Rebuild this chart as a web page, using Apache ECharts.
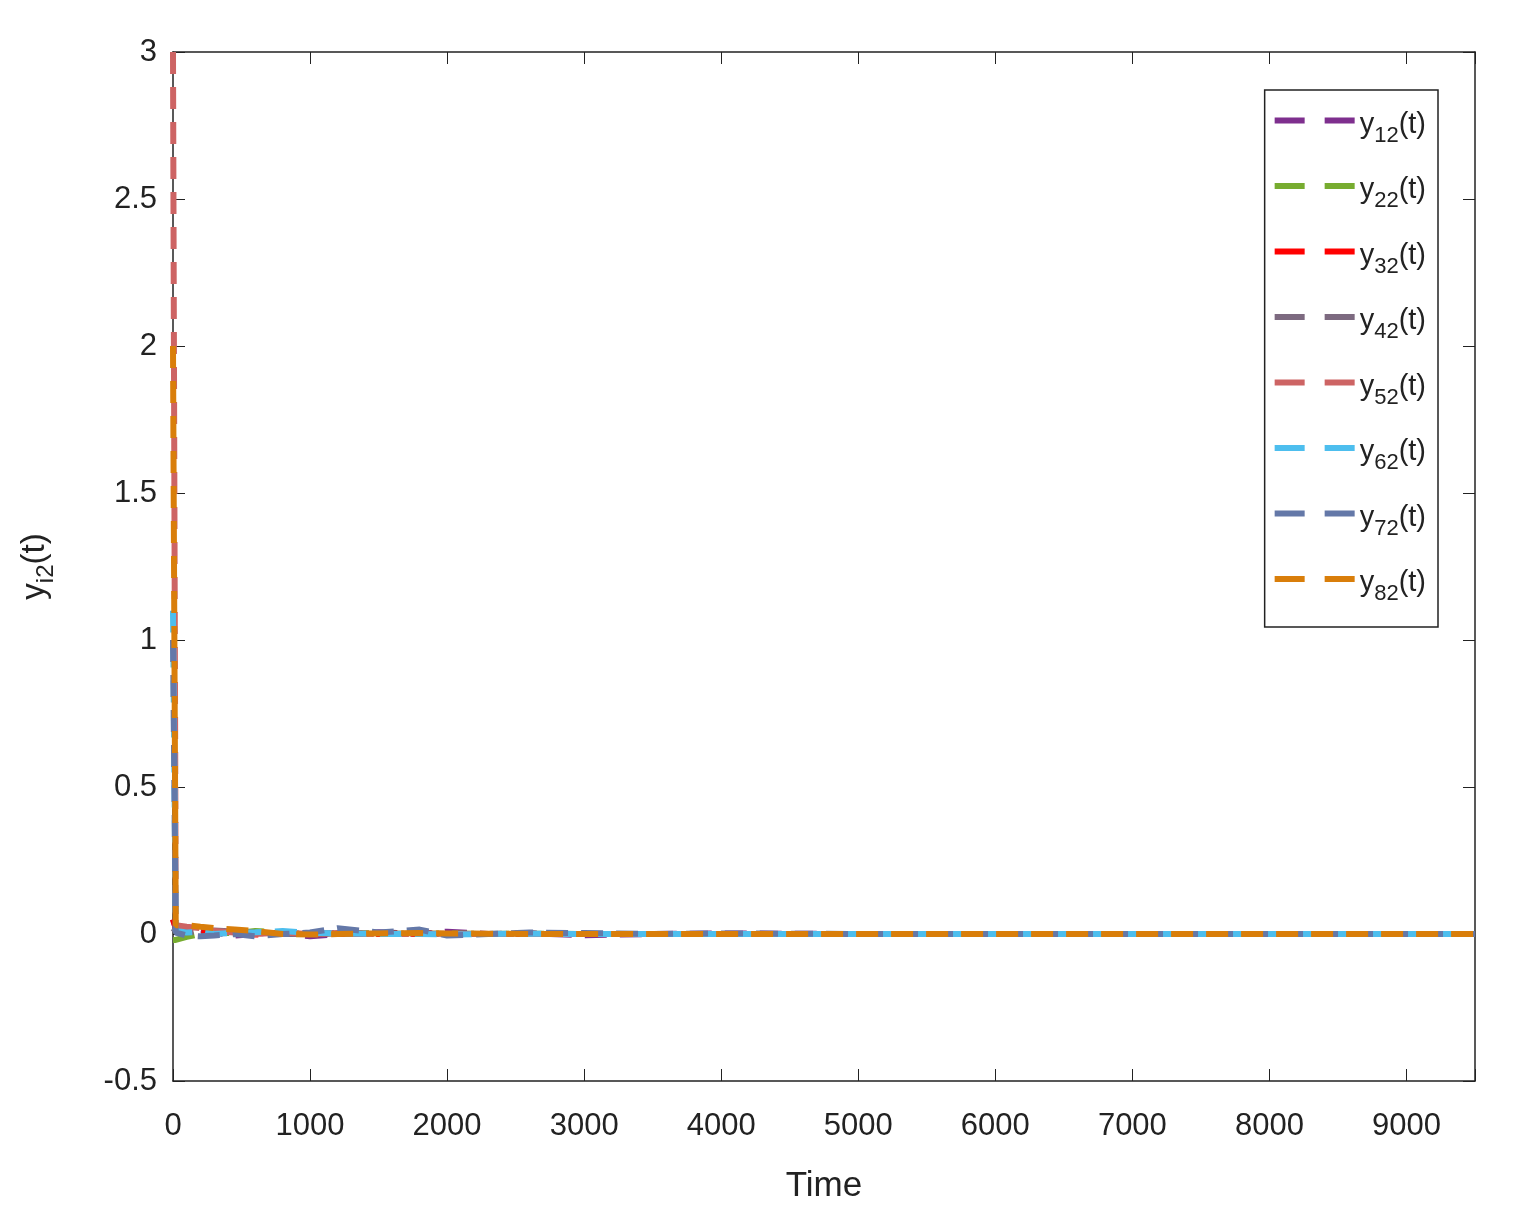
<!DOCTYPE html><html><head><meta charset="utf-8"><script src="https://cdn.jsdelivr.net/npm/echarts@6/dist/echarts.min.js"></script>
<style>body{margin:0}#c{width:1518px;height:1227px}</style></head><body><div id="c"></div><script>
const times=[0,20,100,200,300,450,600,800,1000,1200,1500,1800,2000,2300,2600,3000,3500,4000,5000,6000,7000,8000,9500];
const names=['12','22','32','42','52','62','72','82'];
const colors=['#7E2F8E','#77AC30','#FF0000','#7D6A80','#CD6464','#4DBEEE','#6478A8','#D97E0A'];
const y12=[0.05,0.02,0.01,0.015,0.005,-0.005,0.0,0.005,-0.008,0.0,0.006,0.0,0.008,0.0,0.003,-0.004,0.0,0.002,0,0,0,0,0];
const y22=[-0.02,-0.02,-0.01,0.0,0.005,0.003,0.01,0.005,0.0,0.004,0.002,0.0,0.002,0,0.001,0,0,0,0,0,0,0,0];
const y32=[0.05,0.02,0.015,0.01,0.005,0.0,-0.002,0.003,0.0,0.002,0.0,0.001,0,0,0,0,0,0,0,0,0,0,0];
const y42=[0.02,0.01,0.005,0.01,0.012,0.008,0.004,0.0,0.0,0.002,0.0,0.001,0,0,0,0,0,0,0,0,0,0,0];
const y52=[3.0,0.03,0.025,0.02,0.01,0.005,0.0,0.005,0.0,0.003,0.0,0.0,0.001,0,0,0,0,0,0,0,0,0,0];
const y62=[1.1,0.01,0.005,0.008,0.0,0.004,0.006,0.01,0.004,0.002,0.0,0.0,-0.002,0.0,0.001,0,0,0,0,0,0,0,0];
const y72=[1.0,0.005,-0.005,-0.008,-0.005,0.0,-0.008,0.0,0.005,0.02,0.005,0.015,-0.005,0.0,0.005,0.003,0.0,0.002,0,0,0,0,0];
const y82=[2.0,0.03,0.03,0.025,0.02,0.015,0.01,0.0,-0.002,0.0,0.002,0.003,0.002,0.001,0,0,0,0,0,0,0,0,0];
const vals=[y12,y22,y32,y42,y52,y62,y72,y82];
const series=names.map((n,i)=>({name:'y'+n,type:'line',symbol:'none',z:2+i,
 data:times.map((t,j)=>[t,vals[i][j]]),
 lineStyle:{color:colors[i],width:6,type:[22,13]},itemStyle:{color:colors[i]}}));
const font='Liberation Sans';
const ax={axisLine:{show:true,onZero:false,lineStyle:{color:'#222',width:1.5}},axisTick:{show:true,inside:true,length:12,lineStyle:{color:'#222'}},splitLine:{show:false}};
const chart=echarts.init(document.getElementById('c'));
chart.setOption({animation:false,
 grid:{left:173,right:43,top:52,bottom:146},
 legend:{orient:'vertical',right:80,top:90,itemWidth:80,itemHeight:6,itemGap:29,
  padding:[20,12,22,10],borderColor:'#222',borderWidth:1.5,backgroundColor:'#fff',
  icon:'path://M0,0H30V6H0Z M50,0H80V6H50Z',
  formatter:n=>'{m|y}{s|'+n.slice(1)+'}{m|(t)}',
  textStyle:{height:36,rich:{m:{fontSize:29,fontFamily:font,color:'#222'},s:{fontSize:22,fontFamily:font,color:'#222',padding:[22,0,0,0]}}}},
 xAxis:[Object.assign({type:'value',min:0,max:9500,interval:1000,name:'Time',nameLocation:'middle',nameGap:88,
  nameTextStyle:{fontSize:35,fontFamily:font,color:'#222'},
  axisLabel:{fontSize:31,fontFamily:font,color:'#222',margin:30,formatter:v=>v>9000&&v!==9000?'':v}},ax),
  Object.assign({type:'value',position:'top',min:0,max:9500,interval:1000,axisLabel:{show:false}},ax)],
 yAxis:[Object.assign({type:'value',min:-0.5,max:3,interval:0.5,name:'{m|y}{s|i2}{m|(t)}',nameLocation:'middle',nameGap:115,
  nameTextStyle:{rich:{m:{fontSize:33,fontFamily:font,color:'#222'},s:{fontSize:24,fontFamily:font,color:'#222',padding:[22,0,0,0]}}},
  axisLabel:{fontSize:31,fontFamily:font,color:'#222',margin:16}},ax),
  Object.assign({type:'value',position:'right',min:-0.5,max:3,interval:0.5,axisLabel:{show:false}},ax)],
 series});
</script></body></html>
